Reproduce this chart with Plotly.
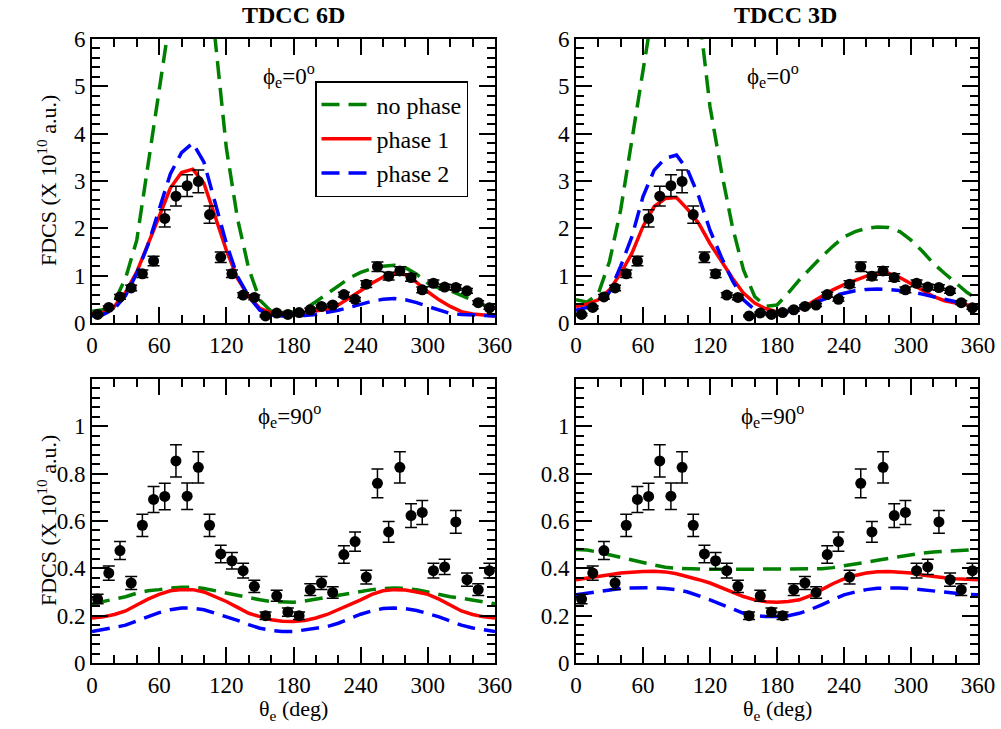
import plotly.graph_objects as go

# ---------------- data ----------------
theta_exp = [5, 15, 25, 35, 45, 55, 65, 75, 85, 95, 105, 115, 125, 135, 145, 155, 165, 175,
             185, 195, 205, 215, 225, 235, 245, 255, 265, 275, 285, 295, 305, 315, 325, 335, 345, 355]

exp_phi0 = [0.18, 0.33, 0.55, 0.74, 1.04, 1.31, 2.21, 2.68, 2.90, 2.99, 2.29, 1.39, 1.04, 0.59, 0.54, 0.15,
            0.21, 0.18, 0.22, 0.28, 0.35, 0.38, 0.60, 0.50, 0.82, 1.19, 0.99, 1.10, 0.96, 0.70, 0.84, 0.76,
            0.75, 0.68, 0.43, 0.32]
err_phi0 = [0.02, 0.03, 0.05, 0.06, 0.08, 0.10, 0.18, 0.21, 0.23, 0.24, 0.18, 0.11, 0.08, 0.05, 0.05, 0.02,
            0.02, 0.02, 0.02, 0.03, 0.03, 0.03, 0.05, 0.04, 0.07, 0.10, 0.08, 0.09, 0.08, 0.06, 0.07, 0.06,
            0.06, 0.05, 0.04, 0.03]

exp_phi90 = [0.27, 0.38, 0.475, 0.338, 0.582, 0.691, 0.704, 0.854, 0.705, 0.827, 0.582, 0.461, 0.432, 0.39,
             0.324, 0.20, 0.284, 0.215, 0.20, 0.31, 0.338, 0.298, 0.458, 0.513, 0.363, 0.759, 0.554, 0.827,
             0.623, 0.636, 0.39, 0.406, 0.596, 0.352, 0.31, 0.39]
err_phi90 = [0.02, 0.03, 0.038, 0.027, 0.047, 0.055, 0.056, 0.068, 0.056, 0.066, 0.047, 0.037, 0.035, 0.031,
             0.026, 0.016, 0.023, 0.017, 0.016, 0.025, 0.027, 0.024, 0.037, 0.041, 0.029, 0.061, 0.044, 0.066,
             0.05, 0.051, 0.031, 0.032, 0.048, 0.028, 0.025, 0.031]

theta_th = [0, 10, 20, 30, 40, 50, 60, 70, 80, 90, 100, 110, 120, 130, 140, 150, 160, 170, 180,
            190, 200, 210, 220, 230, 240, 250, 260, 270, 280, 290, 300, 310, 320, 330, 340, 350, 360]

# TDCC 6D, phi_e = 0
nophase_6d_0 = [0.25, 0.28, 0.45, 0.95, 1.75, 3.30, 4.95, 6.50, 7.60, 8.00, 7.30, 6.00, 3.70, 2.20, 1.15, 0.48,
                0.25, 0.22, 0.24, 0.30, 0.45, 0.62, 0.80, 0.95, 1.07, 1.15, 1.20, 1.22, 1.17, 1.03, 0.84, 0.74,
                0.68, 0.58, 0.47, 0.38, 0.28]
phase1_6d_0 = [0.20, 0.22, 0.35, 0.65, 1.08, 1.65, 2.25, 2.85, 3.18, 3.25, 2.95, 2.25, 1.54, 0.94, 0.56, 0.31,
               0.22, 0.20, 0.20, 0.22, 0.25, 0.29, 0.38, 0.52, 0.68, 0.84, 0.97, 1.05, 1.02, 0.86, 0.66, 0.49,
               0.35, 0.24, 0.19, 0.17, 0.15]
phase2_6d_0 = [0.15, 0.18, 0.30, 0.58, 1.05, 1.65, 2.40, 3.15, 3.60, 3.80, 3.40, 2.53, 1.68, 0.98, 0.56, 0.27,
               0.17, 0.15, 0.15, 0.16, 0.18, 0.22, 0.27, 0.33, 0.40, 0.46, 0.50, 0.52, 0.49, 0.43, 0.35, 0.27,
               0.20, 0.18, 0.17, 0.16, 0.15]

# TDCC 3D, phi_e = 0
nophase_3d_0 = [0.49, 0.44, 0.62, 1.30, 2.39, 3.87, 5.42, 6.80, 7.80, 8.20, 7.90, 6.60, 4.57, 3.23, 2.04, 1.12,
                0.56, 0.35, 0.38, 0.63, 0.91, 1.16, 1.40, 1.62, 1.82, 1.93, 2.00, 2.03, 2.02, 1.93, 1.75, 1.52,
                1.26, 1.05, 0.84, 0.65, 0.49]
phase1_3d_0 = [0.35, 0.40, 0.49, 0.70, 1.05, 1.47, 2.04, 2.46, 2.63, 2.65, 2.40, 2.10, 1.68, 1.30, 0.95, 0.63,
               0.42, 0.30, 0.24, 0.25, 0.30, 0.42, 0.56, 0.70, 0.81, 0.91, 0.99, 1.05, 1.05, 0.96, 0.84, 0.70,
               0.56, 0.47, 0.42, 0.38, 0.35]
phase2_3d_0 = [0.27, 0.33, 0.45, 0.65, 1.20, 1.82, 2.67, 3.23, 3.48, 3.55, 3.23, 2.67, 1.96, 1.40, 0.90, 0.49,
               0.28, 0.20, 0.20, 0.25, 0.31, 0.40, 0.49, 0.57, 0.63, 0.68, 0.71, 0.72, 0.71, 0.69, 0.66, 0.61,
               0.56, 0.50, 0.45, 0.38, 0.31]

# TDCC 6D, phi_e = 90
nophase_6d_90 = [0.25, 0.26, 0.27, 0.28, 0.295, 0.305, 0.31, 0.317, 0.32, 0.32, 0.315, 0.305, 0.295, 0.285,
                 0.275, 0.267, 0.26, 0.257, 0.257, 0.262, 0.27, 0.277, 0.287, 0.295, 0.30, 0.31, 0.315, 0.317,
                 0.315, 0.31, 0.30, 0.29, 0.28, 0.274, 0.265, 0.257, 0.25]
phase1_6d_90 = [0.19, 0.195, 0.205, 0.22, 0.245, 0.27, 0.29, 0.305, 0.31, 0.31, 0.30, 0.28, 0.26, 0.235, 0.21,
                0.196, 0.183, 0.176, 0.175, 0.18, 0.19, 0.205, 0.225, 0.245, 0.267, 0.29, 0.305, 0.31, 0.308,
                0.30, 0.29, 0.27, 0.245, 0.22, 0.205, 0.195, 0.19]
phase2_6d_90 = [0.133, 0.14, 0.15, 0.16, 0.178, 0.197, 0.213, 0.225, 0.232, 0.232, 0.225, 0.21, 0.196, 0.18,
                0.162, 0.147, 0.138, 0.133, 0.133, 0.14, 0.147, 0.154, 0.168, 0.187, 0.206, 0.22, 0.23, 0.232,
                0.23, 0.222, 0.21, 0.195, 0.177, 0.16, 0.148, 0.14, 0.133]

# TDCC 3D, phi_e = 90
nophase_3d_90 = [0.48, 0.477, 0.468, 0.458, 0.447, 0.435, 0.425, 0.414, 0.405, 0.40, 0.398, 0.397, 0.396,
                 0.396, 0.396, 0.396, 0.396, 0.396, 0.396, 0.396, 0.396, 0.396, 0.398, 0.403, 0.41, 0.418,
                 0.426, 0.434, 0.442, 0.45, 0.458, 0.464, 0.469, 0.472, 0.476, 0.479, 0.48]
phase1_3d_90 = [0.352, 0.358, 0.366, 0.373, 0.38, 0.385, 0.387, 0.388, 0.385, 0.377, 0.366, 0.352, 0.338, 0.32,
                0.30, 0.281, 0.267, 0.259, 0.257, 0.26, 0.267, 0.285, 0.31, 0.335, 0.355, 0.37, 0.38, 0.386,
                0.387, 0.385, 0.38, 0.372, 0.365, 0.36, 0.356, 0.353, 0.352]
phase2_3d_90 = [0.288, 0.295, 0.303, 0.31, 0.315, 0.317, 0.318, 0.318, 0.315, 0.31, 0.30, 0.285, 0.267, 0.248,
                0.228, 0.21, 0.20, 0.196, 0.196, 0.20, 0.21, 0.226, 0.246, 0.268, 0.288, 0.30, 0.31, 0.316,
                0.318, 0.317, 0.314, 0.31, 0.305, 0.30, 0.295, 0.29, 0.288]

x_ticks = [0, 60, 120, 180, 240, 300, 360]
y_ticks_top = [0, 1, 2, 3, 4, 5, 6]
y_ticks_bot = [0, 0.2, 0.4, 0.6, 0.8, 1]
y_ticktext_bot = ["0", "0.2", "0.4", "0.6", "0.8", "1"]
col_titles = ["TDCC 6D", "TDCC 3D"]
phi_labels = ["ϕ<sub>e</sub>=0<sup>o</sup>", "ϕ<sub>e</sub>=90<sup>o</sup>"]
series_names = ["no phase", "phase 1", "phase 2"]

# ---------------- styling ----------------
W, H = 1001, 729
FONT = "Liberation Serif"
GREEN, RED, BLUE = "#008000", "#ff0000", "#0000ff"
line_styles = [dict(color=GREEN, width=3.5, dash="18px,9px"),
               dict(color=RED, width=3.5),
               dict(color=BLUE, width=3.5, dash="18px,9px")]

px_x = [(92, 495), (576, 978)]
px_y = [(39, 323), (379, 663)]


def xdom(i):
    return [px_x[i][0] / W, px_x[i][1] / W]


def ydom(j):
    return [(H - px_y[j][1]) / H, (H - px_y[j][0]) / H]


panels = [
    (0, 0, [nophase_6d_0, phase1_6d_0, phase2_6d_0], exp_phi0, err_phi0),
    (0, 1, [nophase_3d_0, phase1_3d_0, phase2_3d_0], exp_phi0, err_phi0),
    (1, 0, [nophase_6d_90, phase1_6d_90, phase2_6d_90], exp_phi90, err_phi90),
    (1, 1, [nophase_3d_90, phase1_3d_90, phase2_3d_90], exp_phi90, err_phi90),
]

fig = go.Figure()
layout = {}
annotations = []

for k, (row, col, curves, ey, ee) in enumerate(panels):
    n = k + 1
    xa = "x" if n == 1 else f"x{n}"
    ya = "y" if n == 1 else f"y{n}"
    for s, (cy, ls) in enumerate(zip(curves, line_styles)):
        fig.add_trace(go.Scatter(x=theta_th, y=cy, mode="lines", line=ls,
                                 name=series_names[s], showlegend=(k == 0),
                                 xaxis=xa, yaxis=ya))
    fig.add_trace(go.Scatter(x=theta_exp, y=ey, mode="markers",
                             marker=dict(color="black", size=11),
                             error_y=dict(type="data", array=ee, color="black",
                                          thickness=1.5, width=6),
                             showlegend=False, xaxis=xa, yaxis=ya))

    common = dict(ticks="inside", tickcolor="black", tickwidth=1.5, ticklen=16,
                  showline=True, linecolor="black", linewidth=2, mirror="ticks",
                  showgrid=False, zeroline=False, automargin=False,
                  tickfont=dict(family=FONT, size=23, color="black"))
    xkey = "xaxis" if n == 1 else f"xaxis{n}"
    ykey = "yaxis" if n == 1 else f"yaxis{n}"
    layout[xkey] = dict(common, domain=xdom(col), anchor=ya, range=[0, 360],
                        tickmode="array", tickvals=x_ticks,
                        minor=dict(ticks="inside", ticklen=8, tickwidth=1.5, tickcolor="black",
                                   tickmode="linear", tick0=0, dtick=20, showgrid=False))
    if row == 0:
        layout[ykey] = dict(common, domain=ydom(row), anchor=xa, range=[0, 6],
                            tickmode="array", tickvals=y_ticks_top,
                            minor=dict(ticks="inside", ticklen=8, tickwidth=1.5, tickcolor="black",
                                       tickmode="linear", tick0=0, dtick=0.2, showgrid=False))
    else:
        layout[ykey] = dict(common, domain=ydom(row), anchor=xa, range=[0, 1.2],
                            tickmode="array", tickvals=y_ticks_bot, ticktext=y_ticktext_bot,
                            minor=dict(ticks="inside", ticklen=8, tickwidth=1.5, tickcolor="black",
                                       tickmode="linear", tick0=0, dtick=0.04, showgrid=False))

    # phi label
    annotations.append(dict(text=phi_labels[row], xref=f"{xa} domain", yref=f"{ya} domain",
                            x=0.49, y=0.87, xanchor="center", yanchor="middle", showarrow=False,
                            font=dict(family=FONT, size=23, color="black")))

# column titles
for col in range(2):
    cx = (px_x[col][0] + px_x[col][1]) / 2 / W
    annotations.append(dict(text=f"<b>{col_titles[col]}</b>", xref="paper", yref="paper",
                            x=cx + (0.008 if col == 1 else 0), y=(H - 15) / H, xanchor="center",
                            yanchor="middle", showarrow=False,
                            font=dict(family=FONT, size=24, color="black")))
    annotations.append(dict(text="θ<sub>e</sub> (deg)", xref="paper", yref="paper",
                            x=cx, y=(H - 710) / H, xanchor="center", yanchor="middle",
                            showarrow=False, font=dict(family=FONT, size=22, color="black")))

for row in range(2):
    cy = (px_y[row][0] + px_y[row][1]) / 2
    annotations.append(dict(text="FDCS (X 10<sup>10</sup> a.u.)", xref="paper", yref="paper",
                            x=47 / W, y=(H - cy) / H, xanchor="center", yanchor="middle",
                            textangle=-90, showarrow=False,
                            font=dict(family=FONT, size=22, color="black")))

fig.update_layout(
    width=W, height=H,
    margin=dict(l=0, r=0, t=0, b=0, autoexpand=False),
    paper_bgcolor="white", plot_bgcolor="white",
    showlegend=True,
    legend=dict(x=315 / W, y=(H - 81) / H, xanchor="left", yanchor="top",
                bgcolor="white", bordercolor="black", borderwidth=1.5,
                font=dict(family=FONT, size=24, color="black"),
                tracegroupgap=0, itemwidth=50),
    annotations=annotations,
    **layout,
)

fig.write_html("out.html", config={"displayModeBar": False},
               post_script="document.body.style.margin='0px';document.body.style.overflow='hidden';")
